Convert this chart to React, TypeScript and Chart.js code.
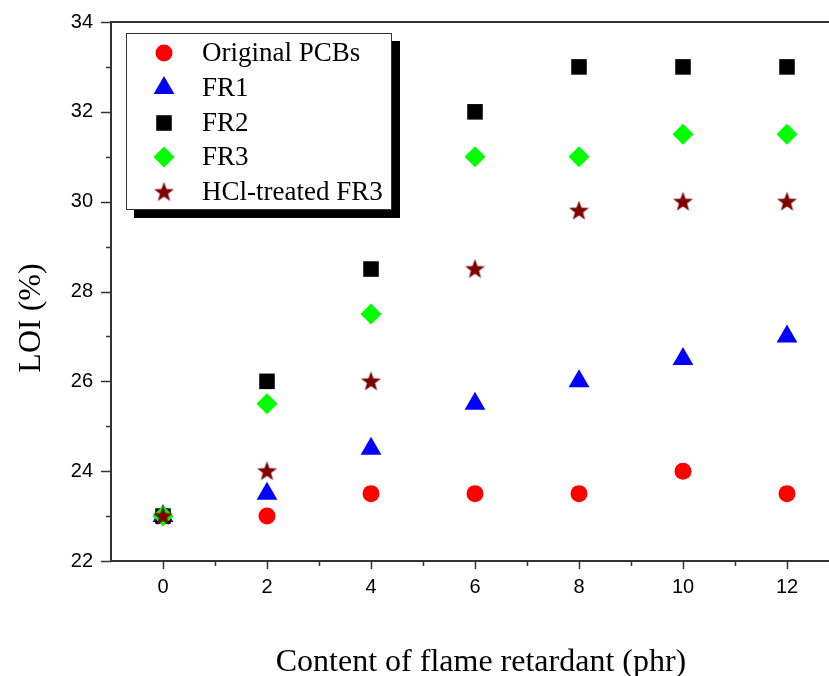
import React, { useEffect, useRef } from 'react';
import { Chart, registerables } from 'chart.js';
import { drawPoint } from 'chart.js/helpers';

Chart.register(...registerables);

const contents = [0, 2, 4, 6, 8, 10, 12];
const originalPCBs = [23, 23, 23.5, 23.5, 23.5, 24, 23.5];
const fr1 = [23, 23.5, 24.5, 25.5, 26, 26.5, 27];
const fr2 = [23, 26, 28.5, 32, 33, 33, 33];
const fr3 = [23, 25.5, 27.5, 31, 31, 31.5, 31.5];
const hclFr3 = [23, 24, 26, 28.5, 29.8, 30, 30];
const seriesLabels = ['Original PCBs', 'FR1', 'FR2', 'FR3', 'HCl-treated FR3'];
const xTickLabels = ['0', '2', '4', '6', '8', '10', '12'];
const yTickLabels = ['22', '24', '26', '28', '30', '32', '34'];
const xTitle = 'Content of flame retardant (phr)';
const yTitle = 'LOI (%)';

const AXIS_COLOR = '#333333';
const CANVAS_W = 851;
const CANVAS_H = 676;

function makeStar(color: string, outer: number, inner: number): HTMLCanvasElement {
  const c = document.createElement('canvas');
  const size = Math.ceil(outer * 2 + 2);
  c.width = size;
  c.height = size;
  const g = c.getContext('2d')!;
  const cx = size / 2;
  const cy = size / 2 + 0.5;
  g.beginPath();
  for (let i = 0; i < 10; i++) {
    const r = i % 2 === 0 ? outer : inner;
    const a = -Math.PI / 2 + (i * Math.PI) / 5;
    const px = cx + r * Math.cos(a);
    const py = cy + r * Math.sin(a);
    if (i === 0) g.moveTo(px, py);
    else g.lineTo(px, py);
  }
  g.closePath();
  g.fillStyle = color;
  g.fill();
  return c;
}

export default function App() {
  const ref = useRef<HTMLCanvasElement | null>(null);

  useEffect(() => {
    if (!ref.current) return;
    const star = makeStar('#800000', 10.5, 4.3);
    const toPts = (arr: number[]) => arr.map((y, i) => ({ x: contents[i], y }));

    const datasets = [
      { label: seriesLabels[0], data: toPts(originalPCBs), pointStyle: 'circle' as any, pointRadius: 8.5, backgroundColor: '#ff0000', order: 5 },
      { label: seriesLabels[1], data: toPts(fr1), pointStyle: 'triangle' as any, pointRadius: 12, backgroundColor: '#0000ff', order: 4 },
      { label: seriesLabels[2], data: toPts(fr2), pointStyle: 'rect' as any, pointRadius: 11, backgroundColor: '#000000', order: 3 },
      { label: seriesLabels[3], data: toPts(fr3), pointStyle: 'rectRot' as any, pointRadius: 10.5, backgroundColor: '#00ff00', order: 2 },
      { label: seriesLabels[4], data: toPts(hclFr3), pointStyle: star as any, pointRadius: 10, backgroundColor: '#800000', order: 1 },
    ].map((d) => ({ ...d, borderWidth: 0, pointBorderWidth: 0, pointHoverRadius: d.pointRadius, showLine: false, clip: false as any }));

    const decor = {
      id: 'decor',
      afterDraw(chart: any) {
        const ctx = chart.ctx as CanvasRenderingContext2D;
        const ca = chart.chartArea;
        const xs = chart.scales.x;
        const ys = chart.scales.y;
        ctx.save();
        ctx.strokeStyle = AXIS_COLOR;
        ctx.lineWidth = 2;
        ctx.beginPath();
        ctx.moveTo(ca.left - 1, ca.top);
        ctx.lineTo(ca.right, ca.top);
        ctx.lineTo(ca.right, ca.bottom);
        ctx.stroke();
        ctx.lineWidth = 1.5;
        for (let v = 0; v <= 12; v++) {
          const px = Math.round(xs.getPixelForValue(v)) + 0.5;
          const len = v % 2 === 0 ? 8 : 5;
          ctx.beginPath();
          ctx.moveTo(px, ca.bottom);
          ctx.lineTo(px, ca.bottom + len);
          ctx.stroke();
        }
        for (let v = 22; v <= 34; v++) {
          const py = Math.round(ys.getPixelForValue(v)) + 0.5;
          const len = v % 2 === 0 ? 10 : 5;
          ctx.beginPath();
          ctx.moveTo(ca.left, py);
          ctx.lineTo(ca.left - len, py);
          ctx.stroke();
        }
        ctx.fillStyle = '#000';
        ctx.font = '32px "Liberation Serif", "Times New Roman", serif';
        ctx.textAlign = 'center';
        ctx.textBaseline = 'alphabetic';
        ctx.fillText(xTitle, 481, 671);
        ctx.save();
        ctx.translate(40, 318);
        ctx.rotate(-Math.PI / 2);
        ctx.fillText(yTitle, 0, 0);
        ctx.restore();
        const bx = 126, by = 33, bw = 266, bh = 177;
        ctx.fillStyle = '#000';
        ctx.fillRect(bx + 8, by + 8, bw, bh);
        ctx.fillStyle = '#fff';
        ctx.fillRect(bx, by, bw, bh);
        ctx.strokeStyle = AXIS_COLOR;
        ctx.lineWidth = 1;
        ctx.strokeRect(bx + 0.5, by + 0.5, bw - 1, bh - 1);
        const rowY = [53, 88, 123, 157, 192];
        chart.data.datasets.forEach((ds: any, i: number) => {
          const y = rowY[i];
          ctx.fillStyle = ds.backgroundColor;
          ctx.strokeStyle = ds.backgroundColor;
          drawPoint(ctx, { pointStyle: ds.pointStyle, radius: ds.pointRadius, rotation: 0, borderWidth: 0 } as any, 164, y);
          ctx.fillStyle = '#000';
          ctx.font = '27px "Liberation Serif", "Times New Roman", serif';
          ctx.textAlign = 'left';
          ctx.textBaseline = 'middle';
          ctx.fillText(ds.label, 202, y + 1);
        });
        ctx.restore();
      },
    };

    const tickFont = { family: '"Liberation Sans", Arial, sans-serif', size: 20 };

    const chart = new Chart(ref.current, {
      type: 'scatter',
      data: { datasets: datasets as any },
      options: {
        animation: false,
        responsive: false,
        devicePixelRatio: 1,
        layout: { padding: { left: 0, right: 0, top: 22, bottom: 0 } },
        plugins: { legend: { display: false }, tooltip: { enabled: false } },
        scales: {
          x: {
            type: 'linear',
            min: -1,
            max: 13,
            afterFit: (s: any) => {
              s.height = 115;
              s.paddingLeft = 0;
              s.paddingRight = 0;
              s.paddingTop = 0;
              s.paddingBottom = 0;
            },
            afterBuildTicks: (s: any) => { s.ticks = contents.map((v) => ({ value: v })); },
            ticks: {
              stepSize: 2,
              color: '#000',
              font: tickFont,
              padding: 14,
              maxRotation: 0,
              autoSkip: false,
              callback: (v: any) => {
                const i = contents.indexOf(Number(v));
                return i >= 0 ? xTickLabels[i] : '';
              },
            },
            grid: { display: true, drawOnChartArea: false, drawTicks: false },
            border: { display: true, color: AXIS_COLOR, width: 2 },
          },
          y: {
            type: 'linear',
            min: 22,
            max: 34,
            afterFit: (s: any) => {
              s.width = 111;
              s.paddingLeft = 0;
              s.paddingRight = 0;
              s.paddingTop = 0;
              s.paddingBottom = 0;
            },
            ticks: {
              stepSize: 2,
              color: '#000',
              font: tickFont,
              padding: 18,
              autoSkip: false,
              callback: (v: any) => {
                const i = yTickLabels.indexOf(String(v));
                return i >= 0 ? yTickLabels[i] : '';
              },
            },
            grid: { display: true, drawOnChartArea: false, drawTicks: false },
            border: { display: true, color: AXIS_COLOR, width: 2 },
          },
        },
      },
      plugins: [decor],
    });
    return () => chart.destroy();
  }, []);

  return (
    <div style={{ position: 'fixed', left: 0, top: 0, width: 829, height: 676, overflow: 'hidden', background: '#fff' }}>
      <div style={{ position: 'absolute', left: 0, top: 0, width: CANVAS_W, height: CANVAS_H }}>
        <canvas ref={ref} width={CANVAS_W} height={CANVAS_H} style={{ display: 'block', width: CANVAS_W, height: CANVAS_H }} />
      </div>
    </div>
  );
}
